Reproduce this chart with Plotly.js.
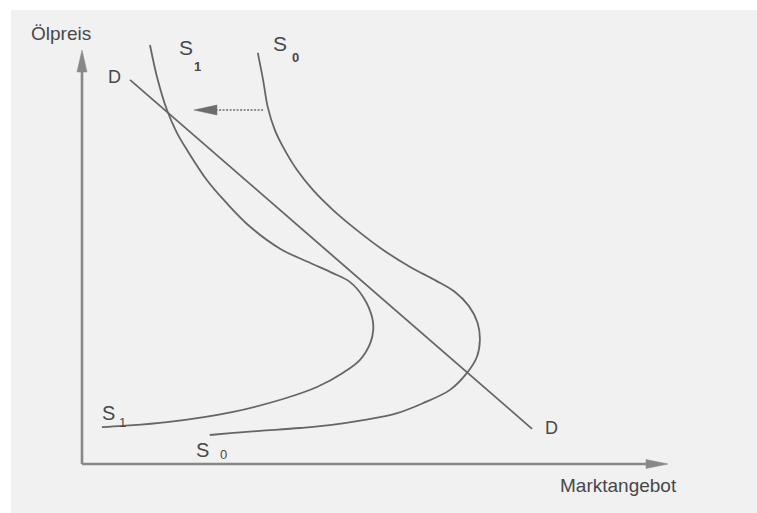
<!DOCTYPE html>
<html>
<head>
<meta charset="utf-8">
<script src="https://cdn.plot.ly/plotly-3.0.1.min.js"></script>
<style>
  html, body { margin: 0; padding: 0; background: #f1f1f1; overflow: hidden; }
  .edge { position: absolute; background: #ffffff; }
  #edgeTop { left: 0; top: 0; width: 100%; height: 10px; }
  #edgeLeft { left: 0; top: 0; width: 11px; height: 100%; }
  #chart { position: absolute; left: 11px; top: 10px; width: 746px; height: 503px; }
</style>
</head>
<body>
<div class="edge" id="edgeTop"></div>
<div class="edge" id="edgeLeft"></div>
<div id="chart"></div>
<script>
// Oil market diagram: backward-bending supply curves S0 -> S1 and demand D.
// Units: Marktangebot (x) and Ölpreis (y), both on a 0–100 scale.

// Original supply curve S0
const s0X = [30.0, 30.9, 31.7, 32.9, 34.3, 36.7, 39.4, 42.8, 46.9, 51.4, 56.0, 60.4, 63.6, 66.0, 67.5, 67.9, 67.4, 65.7, 62.8, 58.2, 53.8, 48.0, 42.3, 37.2, 30.4, 25.8, 21.8];
const s0Y = [99.3, 92.8, 86.2, 80.7, 76.6, 71.0, 66.2, 61.4, 56.5, 51.7, 47.6, 44.3, 41.6, 38.2, 34.1, 30.0, 25.9, 22.0, 17.9, 14.7, 12.3, 10.6, 9.4, 8.7, 8.0, 7.5, 7.0];

// Shifted supply curve S1
const s1X = [11.6, 12.8, 14.5, 16.2, 17.9, 21.3, 24.7, 28.7, 33.8, 38.9, 42.8, 45.7, 48.0, 49.5, 49.7, 49.2, 47.4, 44.5, 40.1, 34.3, 25.8, 14.5, 7.0, 3.4];
const s1Y = [101.2, 93.5, 85.5, 80.0, 75.9, 68.6, 63.0, 57.3, 52.0, 48.6, 46.1, 44.0, 40.3, 35.5, 32.4, 29.2, 25.1, 22.0, 18.6, 15.7, 12.6, 10.1, 9.2, 8.9];

// Demand line D
const dX = [8.2, 76.8];
const dY = [92.8, 8.5];

// Shift arrow (from S0 towards S1)
const shiftX = [30.9, 19.1];
const shiftY = [85.5, 85.5];

// Axis extents
const axisX = [0, 100];
const axisY = [0, 100];
const axisTitles = ['Marktangebot', 'Ölpreis'];

// Curve labels: [main letter, subscript]
const labelS0 = ['S', '0'];
const labelS1 = ['S', '1'];
const labelD = 'D';

const curveColor = '#666666';
const axisColor = '#888888';
const textColor = '#484848';
const font = 'Liberation Sans, Arial, sans-serif';

const traces = [
  { x: s0X, y: s0Y, mode: 'lines', line: { color: curveColor, width: 1.8, shape: 'spline', smoothing: 1 } },
  { x: s1X, y: s1Y, mode: 'lines', line: { color: curveColor, width: 1.8, shape: 'spline', smoothing: 1 } },
  { x: dX, y: dY, mode: 'lines', line: { color: curveColor, width: 1.8 } },
  // axis shafts stop just inside the arrowheads
  { x: [axisX[0], axisX[1] - 2], y: [0, 0], mode: 'lines', line: { color: axisColor, width: 2.6 } },
  { x: [0, 0], y: [axisY[0], axisY[1] - 3], mode: 'lines', line: { color: axisColor, width: 2.6 } },
  // dashed shaft of the shift arrow
  { x: [shiftX[0], shiftX[1] + 3.5], y: shiftY, mode: 'lines', line: { color: '#6c6c6c', width: 1.6, dash: '2px,1.5px' } }
];

// Arrowheads drawn in pixels, anchored at the tips
function head(xa, ya, path, color) {
  return {
    type: 'path', xref: 'x', yref: 'y',
    xsizemode: 'pixel', ysizemode: 'pixel',
    xanchor: xa, yanchor: ya,
    path: path, fillcolor: color, line: { color: color, width: 0.5 }
  };
}
const shapes = [
  head(axisX[1], 0, 'M0,0 L-22,4.5 L-22,-4.5 Z', axisColor),
  head(0, axisY[1], 'M0,0 L-5,-22 L5,-22 Z', axisColor),
  head(shiftX[1], shiftY[1], 'M0,0 L23,5 L23,-5 Z', '#6c6c6c')
];

function lbl(text, x, y, size) {
  return {
    text: text, x: x, y: y, xref: 'x', yref: 'y', showarrow: false,
    xanchor: 'center', yanchor: 'middle',
    font: { family: font, size: size, color: textColor }
  };
}
const annotations = [
  lbl(axisTitles[1], -3.6, 103.9, 19),
  lbl(axisTitles[0], 91.5, -5.1, 19),
  lbl(labelD, 5.6, 93.6, 18),
  lbl(labelD, 80.1, 8.7, 18),
  lbl(labelS1[0], 17.8, 100.7, 21),
  lbl('<b>' + labelS1[1] + '</b>', 19.7, 96.1, 13),
  lbl(labelS0[0], 33.8, 101.6, 21),
  lbl('<b>' + labelS0[1] + '</b>', 36.5, 98.1, 13),
  lbl(labelS1[0], 4.6, 12.4, 20),
  lbl(labelS1[1], 6.9, 10.1, 13),
  lbl(labelS0[0], 20.6, 3.5, 20),
  lbl(labelS0[1], 24.1, 2.2, 13)
];

const hidden = { showgrid: false, zeroline: false, showline: false, showticklabels: false, ticks: '', fixedrange: true };

const layout = {
  width: 746, height: 503,
  margin: { l: 0, r: 0, t: 0, b: 0, pad: 0 },
  paper_bgcolor: '#f1f1f1',
  plot_bgcolor: '#f1f1f1',
  showlegend: false,
  hovermode: false,
  xaxis: Object.assign({ range: [-12.116, 115.188] }, hidden),
  yaxis: Object.assign({ range: [-11.836, 109.662] }, hidden),
  shapes: shapes,
  annotations: annotations
};

Plotly.newPlot('chart', traces, layout, { displayModeBar: false, staticPlot: true });
</script>
</body>
</html>
